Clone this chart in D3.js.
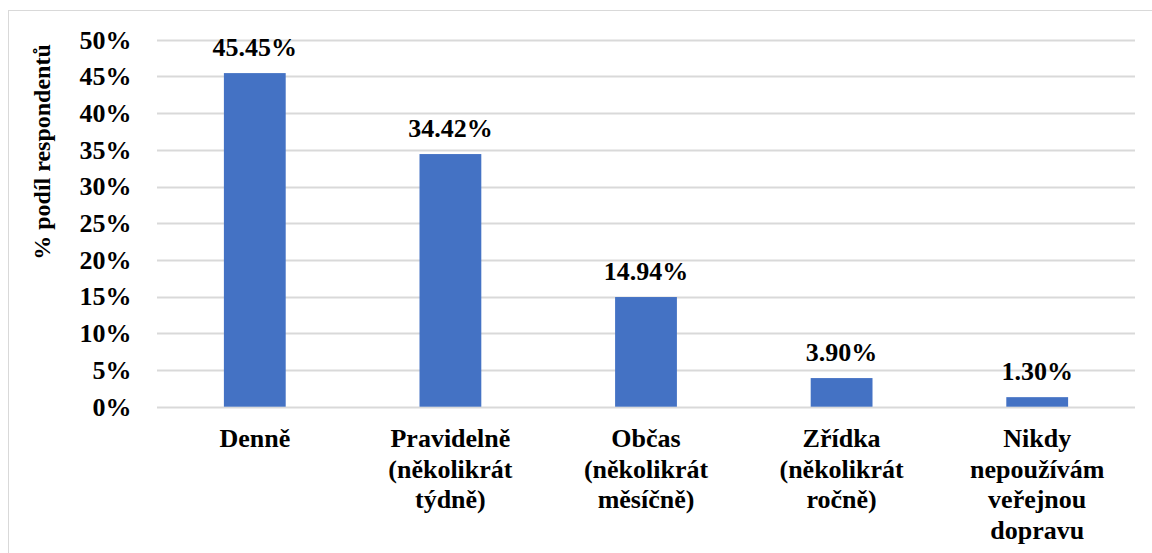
<!DOCTYPE html>
<html><head><meta charset="utf-8">
<script src="https://cdn.jsdelivr.net/npm/d3@7"></script>
<style>html,body{margin:0;padding:0;background:#fff;}svg{display:block;}</style>
</head><body>
<svg id="c" width="1152" height="553"></svg>
<script>
const categories = [
  ["Denně"],
  ["Pravidelně", "(několikrát", "týdně)"],
  ["Občas", "(několikrát", "měsíčně)"],
  ["Zřídka", "(několikrát", "ročně)"],
  ["Nikdy", "nepoužívám", "veřejnou", "dopravu"]
];
const values = [45.45, 34.42, 14.94, 3.90, 1.30];
const valueLabels = ["45.45%", "34.42%", "14.94%", "3.90%", "1.30%"];
const yTicks = [0, 5, 10, 15, 20, 25, 30, 35, 40, 45, 50];
const yTitle = "% podíl respondentů";

(function () {
const svg = d3.select("#c");
const FONT = "Liberation Serif, Times New Roman, serif";
const FS = 26;

svg.append("rect").attr("x", 8.5).attr("y", 10.5).attr("width", 1160).attr("height", 560)
  .attr("fill", "none").attr("stroke", "#d9d9d9").attr("stroke-width", 1);

const pL = 157, pR = 1135, pT = 39.7, pB = 406.7;
const x = d3.scaleBand().domain(d3.range(categories.length)).range([pL, pR])
  .paddingInner(0.684).paddingOuter(0.342);
const y = d3.scaleLinear().domain([0, 50]).range([pB, pT]);

svg.append("g").selectAll("line").data(yTicks).join("line")
  .attr("x1", pL).attr("x2", pR)
  .attr("y1", d => Math.round(y(d)) + 0.5).attr("y2", d => Math.round(y(d)) + 0.5)
  .attr("stroke", "#d9d9d9").attr("stroke-width", 2);

svg.append("g").selectAll("text").data(yTicks).join("text")
  .text(d => d + "%")
  .attr("x", 131.5).attr("y", d => y(d) + 8.8)
  .attr("text-anchor", "end")
  .attr("font-family", FONT).attr("font-weight", "bold").attr("font-size", FS)
  .attr("fill", "#000");

svg.append("g").selectAll("rect").data(values).join("rect")
  .attr("x", (d, i) => x(i)).attr("width", x.bandwidth())
  .attr("y", d => y(d)).attr("height", d => y(0) - y(d))
  .attr("fill", "#4472c4");

svg.append("g").selectAll("text").data(values).join("text")
  .text((d, i) => valueLabels[i])
  .attr("x", (d, i) => x(i) + x.bandwidth() / 2).attr("y", d => y(d) - 17.5)
  .attr("text-anchor", "middle")
  .attr("font-family", FONT).attr("font-weight", "bold").attr("font-size", FS)
  .attr("fill", "#000");

categories.forEach((lines, i) => {
  const cx = x(i) + x.bandwidth() / 2;
  svg.append("g").selectAll("text").data(lines).join("text")
    .text(d => d)
    .attr("x", cx).attr("y", (d, j) => 447 + j * 30.5)
    .attr("text-anchor", "middle")
    .attr("font-family", FONT).attr("font-weight", "bold").attr("font-size", FS)
    .attr("fill", "#000");
});

svg.append("text").text(yTitle)
  .attr("transform", "translate(50,152) rotate(-90)")
  .attr("text-anchor", "middle")
  .attr("font-family", FONT).attr("font-weight", "bold").attr("font-size", 24)
  .attr("fill", "#000");
})();
</script>
</body></html>
